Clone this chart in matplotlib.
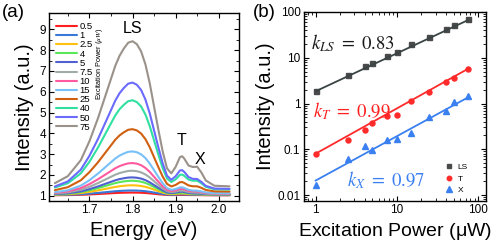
import numpy as np
import matplotlib
matplotlib.use('Agg')
import matplotlib.pyplot as plt
from matplotlib.ticker import MultipleLocator, FixedLocator, FuncFormatter, LogLocator, NullFormatter

plt.rcParams['font.family'] = ['Liberation Sans', 'DejaVu Sans']
plt.rcParams['mathtext.fontset'] = 'stix'

# ---- panel (a): PL spectra ----
powers = ['0.5', '1', '2.5', '4', '5', '7.5', '10', '15', '25', '40', '50', '75']
colors = ['#ff1e1e', '#3a78d8', '#ffc010', '#58e858', '#5060d0', '#a0aca8',
          '#ff5aa0', '#78c0f8', '#d06010', '#30e0a0', '#6a6aff', '#9a928a']

energy = [1.62, 1.65, 1.68, 1.70, 1.72, 1.74, 1.76, 1.77, 1.78, 1.79, 1.80,
          1.81, 1.82, 1.83, 1.84, 1.85, 1.86, 1.87, 1.88, 1.89, 1.90, 1.91,
          1.915, 1.92, 1.93, 1.94, 1.95, 1.96, 1.97, 1.99, 2.025]
# line shapes (normalised)
ls_shape = [0.022, 0.07, 0.18, 0.31, 0.47, 0.65, 0.83, 0.90, 0.95, 0.99, 1.00,
            0.98, 0.93, 0.84, 0.71, 0.55, 0.39, 0.24, 0.12, 0.06, 0.03, 0.015,
            0.01, 0.008, 0.004, 0, 0, 0, 0, 0, 0]
t_shape = [0] * 18 + [0.023, 0.16, 0.56, 0.97, 0.99, 0.84, 0.37, 0.08, 0.01, 0, 0, 0, 0]
x_shape = [0] * 20 + [0.01, 0.06, 0.12, 0.22, 0.53, 0.88, 0.99, 0.70, 0.30, 0.03, 0]

base = [1.02, 1.03, 1.04, 1.05, 1.06, 1.08, 1.10, 1.12, 1.20, 1.30, 1.33, 1.45]
ls_peak = [1.15, 1.25, 1.5, 1.72, 1.88, 2.2, 2.57, 3.13, 4.2, 5.59, 6.44, 8.43]
t_amp = [0.015, 0.03, 0.06, 0.09, 0.12, 0.15, 0.2, 0.25, 0.4, 0.63, 0.8, 1.28]
x_amp = [0.01, 0.015, 0.03, 0.04, 0.05, 0.07, 0.1, 0.12, 0.25, 0.42, 0.47, 0.94]

# ---- panel (b): power dependence ----
p_uw = [1, 2.5, 4, 5, 7.5, 10, 15, 25, 40, 50, 75]
I_ls = [1.89, 4.2, 6.6, 7.7, 10.8, 13.3, 19.9, 28.9, 43, 51, 69]
I_t = [0.08, 0.161, 0.27, 0.38, 0.53, 0.56, 1.12, 1.8, 2.94, 3.55, 5.6]
I_x = [0.0164, 0.061, 0.116, 0.097, 0.158, 0.164, 0.23, 0.5, 0.69, 1.07, 1.45]
fit_k = [0.83, 0.99, 0.97]
fit_a = [1.85, 0.08, 0.0207]   # fitted intensity at 1 uW

fig = plt.figure(figsize=(5.04, 2.52), dpi=100)
ax1 = fig.add_axes([0.0978, 0.2024, 0.3764, 0.747])
ax2 = fig.add_axes([0.603, 0.2024, 0.361, 0.75])

E = np.array(energy)
for i in range(len(powers)):
    y = (base[i] + (ls_peak[i] - base[i]) * np.array(ls_shape)
         + t_amp[i] * np.array(t_shape) + x_amp[i] * np.array(x_shape))
    ax1.plot(E, y, color=colors[i], lw=1.5, label=powers[i], solid_capstyle='round')

ax1.set_xlim(1.607, 2.047)
ax1.set_ylim(0.745, 9.8)
ax1.xaxis.set_major_locator(FixedLocator([1.7, 1.8, 1.9, 2.0]))
ax1.xaxis.set_minor_locator(MultipleLocator(0.05))
ax1.yaxis.set_major_locator(MultipleLocator(1))
ax1.yaxis.set_minor_locator(MultipleLocator(0.5))
ax1.set_xlabel('Energy (eV)', fontsize=14.5, labelpad=3)
ax1.set_ylabel('Intensity (a.u.)', fontsize=14.5, labelpad=4)
ax1.text(1.80, 9.05, 'LS', fontsize=11.5, ha='center', va='center')
ax1.text(1.914, 3.67, 'T', fontsize=11.5, ha='center', va='center')
ax1.text(1.956, 2.76, 'X', fontsize=11.5, ha='center', va='center')
leg1 = ax1.legend(loc='upper left', bbox_to_anchor=(0.035, 0.95), frameon=False,
                  fontsize=6.8, handlelength=2.2, handletextpad=0.3,
                  labelspacing=0.015, borderpad=0, borderaxespad=0)
ax1.text(0.265, 0.728, r'Excitation Power ($\mu W$)', transform=ax1.transAxes,
         rotation=90, fontsize=5.2, ha='center', va='center')

markers = ['s', 'o', '^']
mcol = ['#4a4a4a', '#ff2a2a', '#3a80f0']
lcol = ['#3a4444', '#ff2a2a', '#3a80f0']
names = ['LS', 'T', 'X']
data = [I_ls, I_t, I_x]
for j in range(3):
    ax2.plot(p_uw, data[j], ls='none', marker=markers[j], color=mcol[j],
             ms=3.6 if j < 2 else 4.2, label=names[j])
    xf = np.array([1, 75])
    ax2.plot(xf, fit_a[j] * xf ** fit_k[j], color=lcol[j], lw=1.3)

ax2.set_xscale('log')
ax2.set_yscale('log')
ax2.set_xlim(0.718, 124)
ax2.set_ylim(0.0074, 100)
fmt = FuncFormatter(lambda v, p: '%g' % v)
ax2.xaxis.set_major_formatter(fmt)
ax2.yaxis.set_major_formatter(fmt)
ax2.xaxis.set_minor_formatter(NullFormatter())
ax2.yaxis.set_minor_formatter(NullFormatter())
ax2.xaxis.set_major_locator(LogLocator(base=10, numticks=10))
ax2.yaxis.set_major_locator(LogLocator(base=10, numticks=10))
ax2.xaxis.set_minor_locator(LogLocator(base=10, subs=np.arange(2, 10), numticks=10))
ax2.yaxis.set_minor_locator(LogLocator(base=10, subs=np.arange(2, 10), numticks=10))
ax2.set_xlabel(r'Excitation Power ($\mathregular{\mu}$W)', fontsize=14, labelpad=3)
ax2.set_ylabel('Intensity (a.u.)', fontsize=14.5, labelpad=2)
ax2.text(0.875, 21.3, r'$k_{LS}\ =\ 0.83$', fontsize=13.5, color='#1a1a1a', va='center', ha='left')
ax2.text(0.918, 0.675, r'$k_T\ =\ 0.99$', fontsize=13.5, color='#ff2020', va='center', ha='left')
ax2.text(2.41, 0.0214, r'$k_X\ =\ 0.97$', fontsize=13.5, color='#3a80f0', va='center', ha='left')
ax2.legend(loc='lower left', bbox_to_anchor=(0.775, 0.035), frameon=False, fontsize=6,
           handlelength=1.0, handletextpad=0.5, labelspacing=0.45, borderpad=0,
           borderaxespad=0, markerscale=0.9)

for ax in (ax1, ax2):
    ax.tick_params(which='both', direction='in', top=True, right=True, labelsize=8.5, pad=2.5)
    ax.tick_params(which='major', length=3.5, width=0.8)
    ax.tick_params(which='minor', length=2, width=0.6)
    for s in ax.spines.values():
        s.set_linewidth(1.0)

fig.text(0.004, 0.952, '(a)', fontsize=13.5, va='center', ha='left')
fig.text(0.502, 0.952, '(b)', fontsize=13.5, va='center', ha='left')

fig.savefig('out.png', dpi=100)
